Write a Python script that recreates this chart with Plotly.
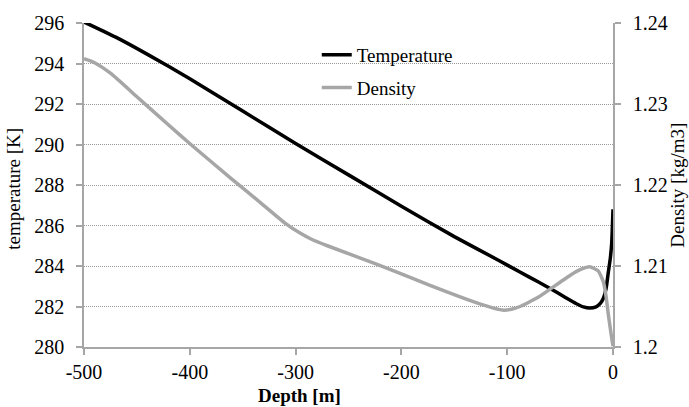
import plotly.graph_objects as go

# ---- data ----
depth_temp = [-500, -470, -440, -400, -350, -300, -250, -200, -150, -107,
              -88, -70, -59, -45, -35, -28, -22, -16, -12, -9, -6.5, -4.4, -2.5, -1.2, 0]
temperature = [296.05, 295.3, 294.45, 293.25, 291.65, 290.05, 288.5, 286.95, 285.45, 284.25,
               283.7, 283.2, 282.88, 282.45, 282.15, 281.98, 281.92, 281.98,
               282.15, 282.42, 282.9, 283.7, 284.4, 285.16, 286.8]

depth_dens = [-500, -490, -475, -450, -420, -399, -360, -333, -310, -295, -285, -270,
              -223, -190, -157, -130, -113, -103, -95, -88, -80, -70, -60, -50, -40,
              -30, -22, -14, -9, -6.5, -4.4, -2, 0]
density = [1.2356, 1.2351, 1.2338, 1.2309, 1.2274, 1.2250, 1.2207, 1.2178, 1.2153,
           1.2140, 1.2133, 1.2125, 1.2102, 1.2085, 1.2068, 1.2055, 1.2048, 1.20455,
           1.2047, 1.2050, 1.2055, 1.2062, 1.2071, 1.2080, 1.2089, 1.2096, 1.2099,
           1.2094, 1.2080, 1.2062, 1.2040, 1.2018, 1.2001]

x_ticks = [-500, -400, -300, -200, -100, 0]
x_tick_text = ["-500", "-400", "-300", "-200", "-100", "0"]
temp_ticks = [280, 282, 284, 286, 288, 290, 292, 294, 296]
dens_ticks = [1.20, 1.21, 1.22, 1.23, 1.24]
dens_tick_text = ["1.2", "1.21", "1.22", "1.23", "1.24"]

FONT = "Liberation Serif, Times New Roman, serif"
AX = "#a6a6a6"
TICKFONT = dict(family=FONT, size=20, color="#000000")

fig = go.Figure()
fig.add_trace(go.Scatter(x=depth_temp, y=temperature, name="Temperature", mode="lines",
                         legendgroup="t",
                         line=dict(color="#000000", width=3.5, shape="spline", smoothing=0.5)))
fig.add_trace(go.Scatter(x=depth_dens, y=density, name="Density", mode="lines", yaxis="y2",
                         legendgroup="d",
                         line=dict(color="#a6a6a6", width=3.5, shape="spline", smoothing=0.5)))

fig.update_layout(
    width=689, height=407,
    margin=dict(l=84, r=76, t=15, b=60),
    paper_bgcolor="white", plot_bgcolor="white",
    font=dict(family=FONT, size=19, color="#000000"),
    showlegend=True,
    legend=dict(x=0.44, y=0.96, xanchor="left", yanchor="top",
                traceorder="grouped", tracegroupgap=5,
                bgcolor="rgba(0,0,0,0)", font=dict(family=FONT, size=19)),
    xaxis=dict(range=[-500, 0], tickvals=x_ticks, ticktext=x_tick_text,
               showgrid=False, zeroline=False, tickfont=TICKFONT,
               showline=True, linecolor=AX, linewidth=1.5,
               ticks="outside", ticklen=6, tickcolor=AX, tickwidth=1.5,
               ticklabelstandoff=0),
    yaxis=dict(range=[280, 296], tickvals=temp_ticks, showgrid=True, gridcolor="#9a9a9a",
               griddash="1px,1px", gridwidth=1, zeroline=False, tickfont=TICKFONT,
               showline=True, linecolor=AX, linewidth=1.5,
               ticks="outside", ticklen=6, tickcolor=AX, tickwidth=1.5,
               ticklabelstandoff=8),
    yaxis2=dict(range=[1.2, 1.24], overlaying="y", side="right", tickvals=dens_ticks,
                ticktext=dens_tick_text, showgrid=False, zeroline=False, tickfont=TICKFONT,
                showline=True, linecolor=AX, linewidth=1.5,
                ticks="outside", ticklen=6, tickcolor=AX, tickwidth=1.5,
                ticklabelstandoff=8),
    annotations=[
        dict(text="temperature [K]", xref="paper", yref="paper", x=-0.1333, y=0.49,
             textangle=-90, showarrow=False, xanchor="center", yanchor="middle",
             font=dict(family=FONT, size=19)),
        dict(text="Density [kg/m3]", xref="paper", yref="paper", x=1.1205, y=0.5,
             textangle=-90, showarrow=False, xanchor="center", yanchor="middle",
             font=dict(family=FONT, size=19)),
        dict(text="<b>Depth [m]</b>", xref="paper", yref="paper", x=0.408, y=-0.1497,
             showarrow=False, xanchor="center", yanchor="middle",
             font=dict(family=FONT, size=19)),
    ],
)

fig.write_html("out.html")
